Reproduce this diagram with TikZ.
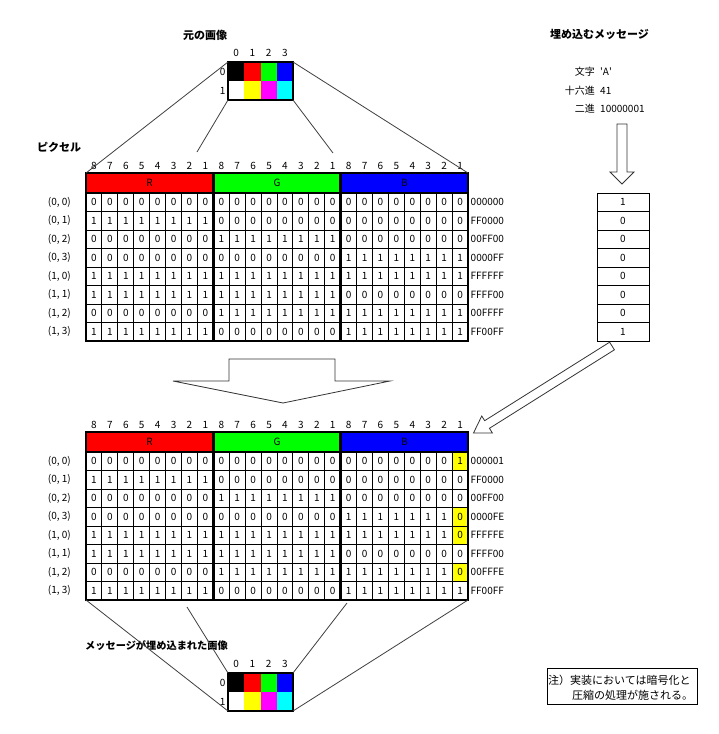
\documentclass[tikz,border=0pt]{standalone}
\usepackage{fontspec}
\setmainfont{Noto Sans CJK JP}
\usetikzlibrary{calc}

\definecolor{cred}{RGB}{255,0,0}
\definecolor{cgreen}{RGB}{0,255,0}
\definecolor{cblue}{RGB}{0,0,255}
\definecolor{cyellow}{RGB}{255,255,0}
\definecolor{cmagenta}{RGB}{255,0,255}
\definecolor{ccyan}{RGB}{0,255,255}

\tikzset{
  bitno/.style={inner sep=0pt, font=\fontsize{10}{12}\selectfont},
  cell/.style={inner sep=0pt, font=\fontsize{10}{12}\selectfont},
  lbl/.style={inner sep=0pt, font=\fontsize{10}{12}\selectfont},
  heading/.style={anchor=west, inner sep=0pt, font=\fontsize{11}{13}\selectfont\bfseries},
  gridline/.style={line width=0.9pt},
  frame/.style={line width=2.4pt},
  link/.style={line width=0.8pt, black!75},
  hollow/.style={draw=black!80, line width=0.8pt, fill=white, line join=miter},
}

% #1 = name, #2 = y of the first pixel row, #3 = r/g/b/lsb/hex/highlight
\newcommand{\pixtable}[3]{%
  \foreach \c in {0,...,23} {
    \pgfmathtruncatemacro\n{8-mod(\c,8)}
    \node[bitno] (#1-no\c) at ({86+(\c+0.5)*15.917},{#2-27.5}) {\n};
  }
  \fill[cred] (86,{#2-20}) rectangle (213.33,#2);
  \fill[cgreen] (213.33,{#2-20}) rectangle (340.67,#2);
  \fill[cblue] (340.67,{#2-20}) rectangle (468,#2);
  \node[lbl] (#1-R) at (149.67,{#2-10}) {R};
  \node[lbl] (#1-G) at (277,{#2-10}) {G};
  \node[lbl] (#1-B) at (404.33,{#2-10}) {B};
  \foreach \r/\g/\b/\l/\hex/\hl [count=\i from 0] in {#3} {
    \pgfmathsetmacro\yy{#2+(\i+0.5)*18.5}
    \pgfmathtruncatemacro\py{\i/4}
    \pgfmathtruncatemacro\px{mod(\i,4)}
    \ifnum\hl=1
      \fill[cyellow] ({86+23*15.917},{#2+\i*18.5}) rectangle ++(15.917,18.5);
    \fi
    \node[lbl, anchor=east] (#1-lab\i) at (71,\yy) {(\py, \px)};
    \foreach \c in {0,...,7}
      \node[cell] (#1-\i-r\c) at ({86+(\c+0.5)*15.917},\yy) {\r};
    \foreach \c in {0,...,7}
      \node[cell] (#1-\i-g\c) at ({86+(\c+8.5)*15.917},\yy) {\g};
    \foreach \c in {0,...,6}
      \node[cell] (#1-\i-b\c) at ({86+(\c+16.5)*15.917},\yy) {\b};
    \node[cell] (#1-\i-b7) at ({86+23.5*15.917},\yy) {\l};
    \node[lbl, anchor=west] (#1-hex\i) at (470.5,\yy) {\hex};
  }
  \foreach \c in {1,...,23}
    \draw[gridline] ({86+\c*15.917},#2) -- ({86+\c*15.917},{#2+148});
  \foreach \i in {1,...,7}
    \draw[gridline] (86,{#2+\i*18.5}) -- (468,{#2+\i*18.5});
  \draw[frame] (86,{#2-20}) rectangle (468,{#2+148});
  \draw[frame] (86,#2) -- (468,#2);
  \draw[frame] (213.33,{#2-20}) -- (213.33,{#2+148});
  \draw[frame] (340.67,{#2-20}) -- (340.67,{#2+148});
  \coordinate (#1-nw) at (86,{#2-20});
  \coordinate (#1-ne) at (468,{#2-20});
  \coordinate (#1-sw) at (86,{#2+148});
  \coordinate (#1-se) at (468,{#2+148});
}

% #1 = name, #2 = top y of the 4x2 picture
\newcommand{\pixgrid}[2]{%
  \foreach \col [count=\k from 0] in {black,cred,cgreen,cblue}
    \fill[\col] ({228+\k*16.25},#2) rectangle ++(16.25,19);
  \foreach \col [count=\k from 0] in {white,cyellow,cmagenta,ccyan}
    \fill[\col] ({228+\k*16.25},{#2+19}) rectangle ++(16.25,19);
  \draw[frame] (228,#2) rectangle (293,{#2+38});
  \foreach \k in {0,...,3}
    \node[bitno] (#1-col\k) at ({228+(\k+0.5)*16.25},{#2-9.5}) {\k};
  \node[bitno, anchor=east] (#1-row0) at (225.5,{#2+9.5}) {0};
  \node[bitno, anchor=east] (#1-row1) at (225.5,{#2+28.5}) {1};
  \coordinate (#1-nw) at (228,#2);
  \coordinate (#1-ne) at (293,#2);
  \coordinate (#1-sw) at (228,{#2+38});
  \coordinate (#1-se) at (293,{#2+38});
}

\begin{document}
\begin{tikzpicture}[x=1pt,y=-1pt]
\useasboundingbox[fill=white] (0,0) rectangle (719,734);

% original picture
\node[heading] (origtitle) at (183,35) {元の画像};
\pixgrid{img1}{62}

% message
\node[heading] (msgtitle) at (550,34) {埋め込むメッセージ};
\node[lbl, anchor=east] (chr) at (595,72) {文字};
\node[lbl, anchor=west] (chrval) at (600,72) {\textquotesingle A\textquotesingle};
\node[lbl, anchor=east] (hex) at (595,91) {十六進};
\node[lbl, anchor=west] (hexval) at (600,91) {41};
\node[lbl, anchor=east] (bin) at (595,109) {二進};
\node[lbl, anchor=west] (binval) at (600,109) {10000001};
\draw[hollow] (617,124) -- (627,124) -- (627,172) -- (634,172) -- (622,184)
  -- (610,172) -- (617,172) -- cycle;
\foreach \v [count=\i from 0] in {1,0,0,0,0,0,0,1}
  \node[cell, draw, line width=0.9pt, minimum width=52, minimum height=18.5]
    (msg\i) at (623,{193+(\i+0.5)*18.5}) {\v};

% pixel table
\node[heading] (pixtitle) at (37,147) {ピクセル};
\pixtable{tab1}{193}{0/0/0/0/000000/0, 1/0/0/0/FF0000/0, 0/1/0/0/00FF00/0,
  0/0/1/1/0000FF/0, 1/1/1/1/FFFFFF/0, 1/1/0/0/FFFF00/0, 0/1/1/1/00FFFF/0,
  1/0/1/1/FF00FF/0}

\coordinate (in1) at (197,152);
\coordinate (in2) at (333,153);
\draw[link] (img1-nw) -- (tab1-nw);
\draw[link] (img1-ne) -- (tab1-ne);
\draw[link] (img1-sw) -- (in1);
\draw[link] (img1-se) -- (in2);

% big arrow
\draw[hollow] (229,359) -- (335,359) -- (335,381) -- (390,381) -- (283,403)
  -- (173,381) -- (229,381) -- cycle;

% arrow from the message to the new table
\coordinate (ds) at (612,346);
\coordinate (dt) at (473.5,433);
\coordinate (db) at ($(dt)!16pt!(ds)$);
\draw[hollow] ($(ds)!4.5pt!90:(dt)$) -- ($(db)!4.5pt!-90:(ds)$) -- ($(db)!10pt!-90:(ds)$)
  -- (dt) -- ($(db)!10pt!90:(ds)$) -- ($(db)!4.5pt!90:(ds)$) -- ($(ds)!4.5pt!-90:(dt)$) -- cycle;

% table with the message
\pixtable{tab2}{452}{0/0/0/1/000001/1, 1/0/0/0/FF0000/0, 0/1/0/0/00FF00/0,
  0/0/1/0/0000FE/1, 1/1/1/0/FFFFFE/1, 1/1/0/0/FFFF00/0, 0/1/1/0/00FFFE/1,
  1/0/1/1/FF00FF/0}

% new picture
\node[heading, font=\fontsize{10.2}{12}\selectfont\bfseries] (newtitle) at (85,646) {メッセージが埋め込まれた画像};
\pixgrid{img2}{673}
\coordinate (out1) at (187,607);
\coordinate (out2) at (347,603);
\draw[link] (tab2-sw) -- (img2-sw);
\draw[link] (tab2-se) -- (img2-se);
\draw[link] (out1) -- (img2-nw);
\draw[link] (out2) -- (img2-ne);

% note
\draw[line width=0.9pt] (547,668) rectangle (697,704);
\node[lbl, anchor=west, font=\fontsize{11}{13}\selectfont] (note1) at (548,680) {注）実装においては暗号化と};
\node[lbl, anchor=west, font=\fontsize{11}{13}\selectfont] (note2) at (572,695) {圧縮の処理が施される。};
\end{tikzpicture}
\end{document}
